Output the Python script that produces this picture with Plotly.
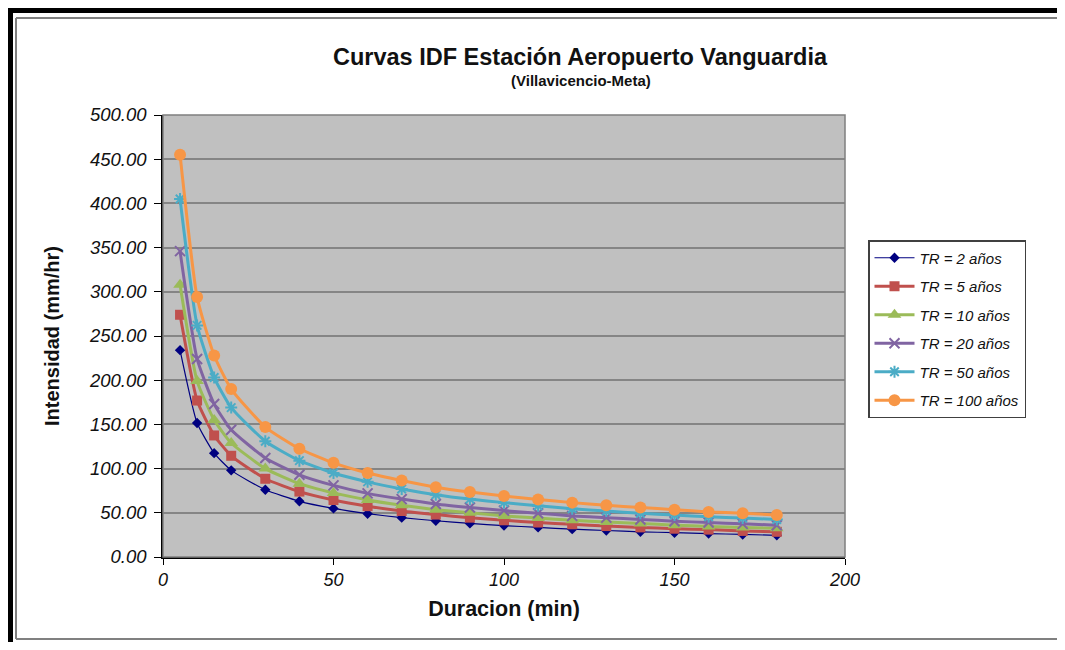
import plotly.graph_objects as go

# ---- data ----
duracion = [5, 10, 15, 20, 30, 40, 50, 60, 70, 80, 90, 100, 110, 120, 130, 140, 150, 160, 170, 180]

tr2 = [234, 151.5, 117.5, 98, 76, 63, 55, 49, 44.5, 41, 38, 35.5, 33.5, 31.5, 30, 28.5, 27.5, 26.5, 25.5, 24.5]
tr5 = [274, 177, 137.5, 114.5, 88.5, 74, 64.5, 57.5, 52, 48, 44.5, 41.5, 39, 37, 35, 33.5, 32, 31, 29.5, 28.5]
tr10 = [308, 199, 155, 129, 100, 83, 72.5, 64.5, 58.5, 53.5, 50, 46.5, 44, 41.5, 39.5, 38, 36, 34.5, 33.5, 32.5]
tr20 = [346, 224, 173, 144, 112, 93, 81, 72, 65.5, 60, 56, 52.5, 49.5, 46.5, 44.5, 42.5, 40.5, 39, 37.5, 36]
tr50 = [405, 262, 203, 169, 131, 109, 95, 85, 77, 70.5, 65.5, 61.5, 58, 54.5, 52, 49.5, 47.5, 45.5, 44, 42.5]
tr100 = [455, 294, 228, 190, 147, 122.5, 106.5, 95, 86.5, 79, 73.5, 69, 65, 61.5, 58.5, 56, 53.5, 51, 49.5, 47.5]

series_names = ["TR = 2 años", "TR = 5 años", "TR = 10 años", "TR = 20 años", "TR = 50 años", "TR = 100 años"]
series_values = [tr2, tr5, tr10, tr20, tr50, tr100]

x_ticks = [0, 50, 100, 150, 200]
y_ticks = [0, 50, 100, 150, 200, 250, 300, 350, 400, 450, 500]

title_text = "<b>Curvas IDF Estación Aeropuerto Vanguardia</b>"
subtitle_text = "<b>(Villavicencio-Meta)</b>"
x_title = "Duracion (min)"
y_title = "Intensidad (mm/hr)"

# ---- styles ----
colors = ["#000080", "#C0504D", "#9BBB59", "#8064A2", "#4BACC6", "#F79646"]
symbols = ["diamond", "square", "triangle-up", "x-thin-open", "asterisk-open", "circle"]
msizes = [8, 10, 12, 10, 10, 12]
lwidths = [1.2, 3, 3, 3, 3, 3]

FONT = "Liberation Sans, Arial, sans-serif"

# The page body adds an 8px margin on every side; keep the figure inside the window.
OFF = 8
W, H = 1065 - 2 * OFF, 650 - 2 * OFF
# plot area in window pixels
L, R, T, B = 163, 845, 115, 557


def px(xp):
    return (xp - L) / (R - L)


def py(yp):
    return (B - yp) / (B - T)


fig = go.Figure()
for i, (name, vals) in enumerate(zip(series_names, series_values)):
    marker = dict(symbol=symbols[i], size=msizes[i], color=colors[i])
    if "open" in symbols[i]:
        marker["line"] = dict(width=2, color=colors[i])
    fig.add_trace(go.Scatter(
        x=duracion, y=vals, name=name, mode="lines+markers",
        line=dict(color=colors[i], width=lwidths[i], shape="spline", smoothing=0.5),
        marker=marker, legendgroup=f"g{i}",
    ))

shapes = [
    # plot area border (gray)
    dict(type="rect", xref="paper", yref="paper", x0=0, x1=1, y0=0, y1=1,
         line=dict(color="#7f7f7f", width=1.5), layer="above"),
    # outer black frame
    dict(type="line", xref="paper", yref="paper", x0=px(9), x1=px(9), y0=py(7), y1=py(655),
         line=dict(color="black", width=8)),
    dict(type="line", xref="paper", yref="paper", x0=px(5), x1=px(1075), y0=py(10), y1=py(10),
         line=dict(color="black", width=6)),
    # inner gray frame
    dict(type="line", xref="paper", yref="paper", x0=px(16), x1=px(16), y0=py(18), y1=py(639),
         line=dict(color="#808080", width=2)),
    dict(type="line", xref="paper", yref="paper", x0=px(16), x1=px(1075), y0=py(18), y1=py(18),
         line=dict(color="#808080", width=2)),
    dict(type="line", xref="paper", yref="paper", x0=px(16), x1=px(1075), y0=py(639), y1=py(639),
         line=dict(color="#808080", width=2)),
]

annotations = [
    dict(text=title_text, xref="paper", yref="paper", x=px(580), y=py(57),
         xanchor="center", yanchor="middle", showarrow=False,
         font=dict(family=FONT, size=23.5, color="#111111")),
    dict(text=subtitle_text, xref="paper", yref="paper", x=px(581), y=py(80),
         xanchor="center", yanchor="middle", showarrow=False,
         font=dict(family=FONT, size=15, color="#111111")),
]

fig.update_layout(
    width=W, height=H,
    margin=dict(l=L - OFF, r=(W + OFF) - R, t=T - OFF, b=(H + OFF) - B, pad=0),
    paper_bgcolor="white",
    plot_bgcolor="#C0C0C0",
    font=dict(family=FONT, color="#111111"),
    shapes=shapes,
    annotations=annotations,
    showlegend=True,
    legend=dict(
        x=px(868), y=py(240), xanchor="left", yanchor="top",
        bgcolor="white", bordercolor="#404040", borderwidth=1.5,
        font=dict(family=FONT, size=15, style="italic", color="#111111"),
        tracegroupgap=6, itemwidth=40,
    ),
    xaxis=dict(
        range=[0, 200], tickvals=x_ticks, ticktext=[str(v) for v in x_ticks],
        showgrid=False, zeroline=False,
        showline=True, linecolor="black", linewidth=1.5,
        ticks="outside", ticklen=6, tickcolor="black", tickwidth=1,
        tickfont=dict(family=FONT, size=18, style="italic", color="#111111"),
        title=dict(text=f"<b>{x_title}</b>", font=dict(family=FONT, size=21.5, color="#111111"), standoff=12),
    ),
    yaxis=dict(
        range=[0, 500], tickvals=y_ticks, ticktext=[f"{v:.2f}" for v in y_ticks],
        showgrid=True, gridcolor="#858585", gridwidth=1.8, zeroline=False,
        showline=True, linecolor="black", linewidth=1.5,
        ticks="outside", ticklen=7, tickcolor="black", tickwidth=1,
        ticklabelstandoff=4,
        tickfont=dict(family=FONT, size=18.5, style="italic", color="#111111"),
        title=dict(text=f"<b>{y_title}</b>", font=dict(family=FONT, size=20, color="#111111"), standoff=24),
    ),
)

fig.write_html("out.html")
